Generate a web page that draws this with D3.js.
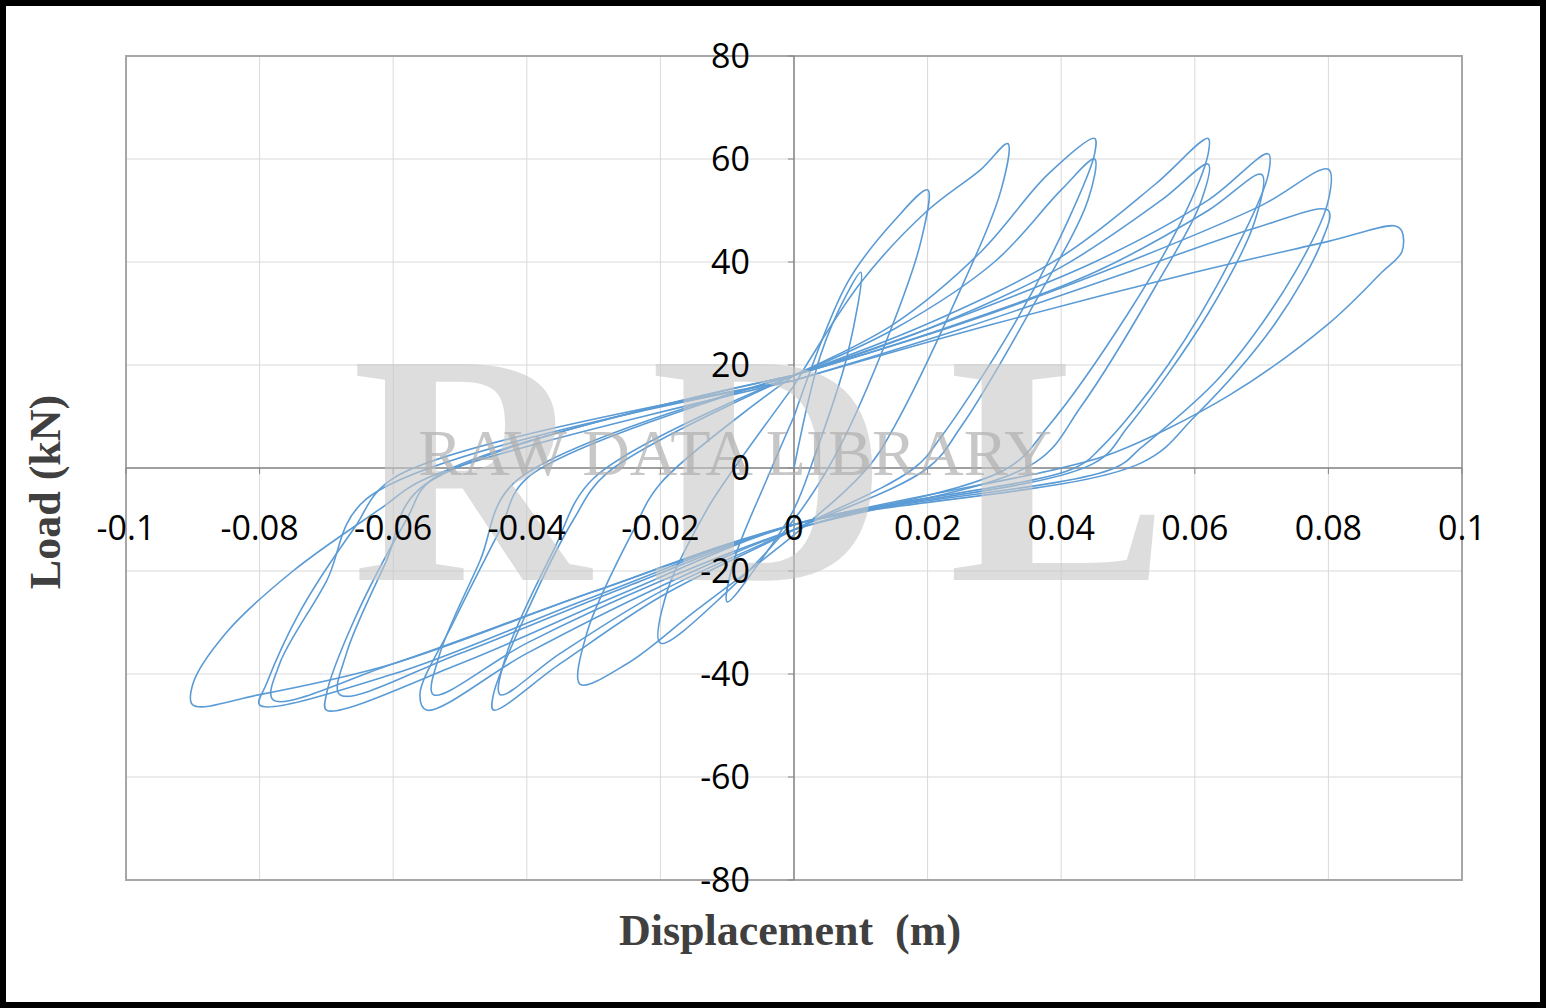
<!DOCTYPE html>
<html><head><meta charset="utf-8">
<script src="https://cdn.jsdelivr.net/npm/d3@7"></script>
<style>body{margin:0;background:#fff}</style></head>
<body><svg id="c" width="1546" height="1008"></svg>
<script>
const xTicks=[-0.1,-0.08,-0.06,-0.04,-0.02,0,0.02,0.04,0.06,0.08,0.1];
const xTickLabels=["-0.1","-0.08","-0.06","-0.04","-0.02","0","0.02","0.04","0.06","0.08","0.1"];
const yTicks=[-80,-60,-40,-20,0,20,40,60,80];
const cycle1=[[0,0],[0.004,22],[0.008,34],[0.01,38],[0.008,22],[0.003,2],[0,-8],[-0.005,-18],[-0.01,-26],[-0.009,-18],[-0.004,-2],[0,10]];
const cycle2=[[0,10],[0.008,36],[0.015,48],[0.02,54],[0.019,44],[0.013,22],[0.006,2],[0,-10],[-0.01,-24],[-0.02,-34],[-0.019,-24],[-0.013,-8],[-0.01,-2],[0,16]];
const cycle3=[[0,16],[0.01,36],[0.02,50],[0.028,58],[0.032,63],[0.031,54],[0.024,32],[0.015,8],[0.011,0],[0,-13],[-0.015,-28],[-0.025,-38],[-0.032,-42],[-0.031,-32],[-0.024,-12],[-0.02,-3],[0,18]];
const cycle4=[[0,18],[0.015,28],[0.028,42],[0.038,57],[0.045,64],[0.045,61],[0.041,48],[0.033,28],[0.022,6],[0.018,0],[0,-12],[-0.02,-25],[-0.035,-38],[-0.045,-47],[-0.045,-44],[-0.04,-28],[-0.033,-10],[-0.028,-1],[0,18]];
const cycle4b=[[0,18],[0.015,27],[0.03,40],[0.04,54],[0.045,60],[0.044,52],[0.036,32],[0.025,8],[0.02,0],[0,-12],[-0.02,-24],[-0.035,-36],[-0.044,-44],[-0.043,-36],[-0.036,-16],[-0.03,-2],[0,18]];
const cycle5=[[0,18],[0.02,28],[0.04,41],[0.054,55],[0.062,64],[0.062,61],[0.058,48],[0.05,30],[0.038,8],[0.032,0],[0,-12],[-0.02,-23],[-0.04,-36],[-0.055,-47],[-0.056,-44],[-0.051,-30],[-0.044,-12],[-0.04,-2],[0,18]];
const cycle5b=[[0,18],[0.02,27],[0.04,39],[0.055,52],[0.062,59],[0.061,52],[0.054,35],[0.043,12],[0.036,1],[0,-12],[-0.02,-22],[-0.04,-34],[-0.054,-44],[-0.053,-36],[-0.047,-18],[-0.042,-3],[0,18]];
const cycle6=[[0,18],[0.02,27],[0.045,40],[0.062,52],[0.071,61],[0.071,57],[0.066,42],[0.056,20],[0.046,4],[0.042,0],[0,-11],[-0.025,-24],[-0.05,-38],[-0.07,-47],[-0.07,-44],[-0.066,-30],[-0.058,-10],[-0.054,-2],[0,18]];
const cycle6b=[[0,18],[0.02,26],[0.045,38],[0.062,50],[0.07,57],[0.069,48],[0.062,30],[0.05,8],[0.045,1],[0,-11],[-0.025,-23],[-0.05,-36],[-0.068,-44],[-0.067,-36],[-0.061,-18],[-0.056,-4],[0,18]];
const cycle7=[[0,18],[0.025,28],[0.05,40],[0.07,51],[0.08,58],[0.08,52],[0.075,38],[0.064,18],[0.052,4],[0.048,0],[0,-11],[-0.03,-25],[-0.06,-40],[-0.08,-46],[-0.079,-42],[-0.074,-28],[-0.066,-12],[-0.06,-2],[0,17]];
const cycle7b=[[0,17],[0.025,27],[0.05,38],[0.07,47],[0.08,50],[0.079,44],[0.072,28],[0.06,10],[0.052,1],[0,-11],[-0.03,-24],[-0.06,-38],[-0.078,-45],[-0.077,-38],[-0.07,-22],[-0.064,-6],[0,17]];
const cycle8=[[0,17],[0.03,28],[0.06,38],[0.08,44],[0.09,47],[0.091,46],[0.091,42],[0.088,38],[0.08,28],[0.065,14],[0.048,3],[0.04,0],[0,-11],[-0.03,-24],[-0.06,-38],[-0.08,-44],[-0.09,-46],[-0.09,-42],[-0.085,-32],[-0.075,-20],[-0.062,-8],[-0.055,-2],[0,17]];
const cycles=[cycle1,cycle2,cycle3,cycle4,cycle4b,cycle5,cycle5b,cycle6,cycle6b,cycle7,cycle7b,cycle8];

const svg=d3.select("#c");
svg.append("rect").attr("x",3).attr("y",3).attr("width",1540).attr("height",1002).attr("fill","none").attr("stroke","#000").attr("stroke-width",6);
const x=d3.scaleLinear().domain([-0.1,0.1]).range([126,1462]);
const y=d3.scaleLinear().domain([-80,80]).range([880,56]);
const g=svg.append("g");
xTicks.forEach(t=>g.append("line").attr("x1",x(t)).attr("x2",x(t)).attr("y1",y(80)).attr("y2",y(-80)).attr("stroke","#d9d9d9"));
yTicks.forEach(t=>g.append("line").attr("y1",y(t)).attr("y2",y(t)).attr("x1",x(-0.1)).attr("x2",x(0.1)).attr("stroke","#d9d9d9"));
g.append("rect").attr("x",x(-0.1)).attr("y",y(80)).attr("width",x(0.1)-x(-0.1)).attr("height",y(-80)-y(80)).attr("fill","none").attr("stroke","#a6a6a6").attr("stroke-width",2);
// watermark
svg.append("text").attr("x",790).attr("y",580).attr("text-anchor","middle").attr("font-family","Liberation Serif").attr("font-weight","bold").attr("font-size",330).attr("letter-spacing",60).attr("fill","#c8c8c8").attr("opacity",0.6).text("RDL");
svg.append("text").attr("x",735).attr("y",475).attr("text-anchor","middle").attr("font-family","Liberation Serif").attr("font-size",66).attr("fill","#b0b0b0").attr("opacity",0.7).text("RAW DATA LIBRARY");
// axes lines
g.append("line").attr("x1",x(-0.1)).attr("x2",x(0.1)).attr("y1",y(0)).attr("y2",y(0)).attr("stroke","#868686").attr("stroke-width",1.5);
g.append("line").attr("x1",x(0)).attr("x2",x(0)).attr("y1",y(80)).attr("y2",y(-80)).attr("stroke","#868686").attr("stroke-width",1.5);
xTicks.forEach(t=>g.append("line").attr("x1",x(t)).attr("x2",x(t)).attr("y1",y(0)).attr("y2",y(0)+6).attr("stroke","#868686"));
yTicks.forEach(t=>g.append("line").attr("x1",x(0)-6).attr("x2",x(0)).attr("y1",y(t)).attr("y2",y(t)).attr("stroke","#868686"));
const line=d3.line().x(d=>x(d[0])).y(d=>y(d[1])).curve(d3.curveCatmullRom.alpha(0.5));
cycles.forEach(c=>g.append("path").attr("d",line(c)).attr("fill","none").attr("stroke","#5b9bd5").attr("stroke-width",1.6));
xTicks.forEach((t,i)=>svg.append("text").attr("x",x(t)).attr("y",y(0)+72).attr("text-anchor","middle").attr("font-family","Open Sans").attr("font-size",34).attr("fill","#000").text(xTickLabels[i]));
yTicks.forEach(t=>svg.append("text").attr("x",x(0)-44).attr("y",y(t)+12).attr("text-anchor","end").attr("font-family","Open Sans").attr("font-size",34).attr("fill","#000").text(String(t)));
svg.append("text").attr("x",790).attr("y",945).attr("text-anchor","middle").attr("font-family","Liberation Serif").attr("font-weight","bold").attr("font-size",44).attr("fill","#404040").attr("xml:space","preserve").text("Displacement  (m)");
svg.append("text").attr("transform","translate(60,492) rotate(-90)").attr("text-anchor","middle").attr("font-family","Liberation Serif").attr("font-weight","bold").attr("font-size",44).attr("fill","#404040").text("Load (kN)");
</script></body></html>
